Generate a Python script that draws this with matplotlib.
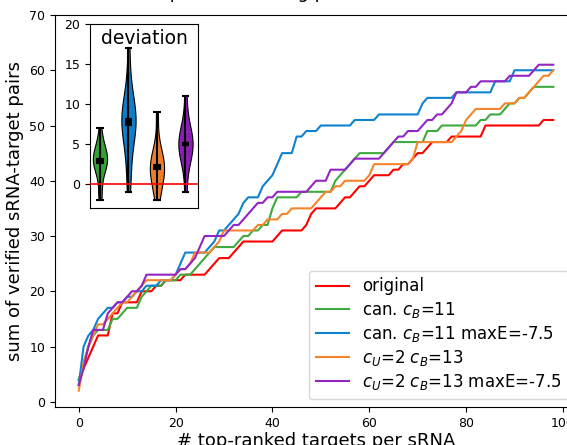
import numpy as np
import matplotlib
matplotlib.use("Agg")
import matplotlib.pyplot as plt

# cumulative number of verified sRNA-target pairs for the top-k predictions
ranks = list(range(99))

original = [4, 6, 8, 10, 12, 12, 12, 16, 16, 18,
            18, 18, 18, 20, 20, 20, 21, 21, 22, 22,
            22, 22, 23, 23, 23, 23, 23, 24, 25, 26,
            26, 26, 27, 28, 29, 29, 29, 29, 29, 29,
            29, 30, 31, 31, 31, 31, 31, 32, 34, 35,
            35, 35, 35, 35, 36, 37, 37, 38, 39, 39,
            40, 41, 41, 41, 41, 42, 42, 43, 43, 44,
            45, 45, 46, 47, 47, 47, 47, 48, 48, 48,
            48, 48, 48, 48, 50, 50, 50, 50, 50, 50,
            50, 50, 50, 50, 50, 50, 51, 51, 51]

can_cb11 = [4, 7, 10, 12, 13, 13, 13, 15, 15, 16,
            17, 17, 17, 19, 20, 21, 21, 21, 22, 22,
            22, 23, 23, 23, 24, 25, 26, 27, 28, 28,
            28, 28, 28, 29, 30, 30, 31, 31, 32, 32,
            35, 37, 37, 37, 37, 37, 38, 38, 38, 38,
            38, 38, 38, 40, 41, 42, 43, 44, 45, 45,
            45, 45, 45, 45, 46, 47, 47, 47, 47, 47,
            47, 47, 49, 49, 49, 50, 50, 50, 50, 50,
            50, 50, 50, 51, 51, 52, 52, 52, 53, 54,
            54, 55, 55, 56, 57, 57, 57, 57, 57]

can_cb11_maxe = [3, 10, 12, 13, 15, 16, 17, 17, 18, 18,
                 19, 19, 20, 20, 21, 21, 21, 22, 22, 22,
                 23, 25, 27, 27, 27, 27, 27, 28, 29, 31,
                 31, 32, 33, 34, 36, 37, 37, 37, 39, 40,
                 41, 43, 45, 45, 45, 48, 48, 49, 49, 49,
                 50, 50, 50, 50, 50, 50, 50, 51, 51, 51,
                 51, 51, 52, 52, 52, 52, 52, 52, 52, 52,
                 52, 54, 55, 55, 55, 55, 55, 55, 56, 56,
                 56, 56, 56, 56, 56, 56, 58, 58, 58, 58,
                 60, 60, 60, 60, 60, 60, 60, 60, 60]

cu2_cb13 = [2, 7, 10, 12, 14, 14, 15, 16, 17, 18,
            18, 19, 20, 21, 22, 22, 22, 22, 22, 22,
            23, 24, 24, 25, 27, 27, 27, 27, 28, 29,
            31, 31, 31, 31, 31, 31, 31, 32, 32, 33,
            33, 33, 34, 34, 35, 35, 35, 35, 35, 36,
            37, 38, 38, 39, 39, 40, 40, 40, 40, 40,
            41, 43, 43, 43, 43, 43, 43, 43, 43, 44,
            47, 47, 47, 47, 47, 47, 47, 47, 48, 49,
            51, 52, 53, 53, 53, 53, 53, 53, 54, 54,
            54, 55, 55, 56, 57, 58, 59, 59, 60]

cu2_cb13_maxe = [3, 6, 10, 13, 13, 13, 16, 17, 18, 18,
                 19, 20, 20, 21, 23, 23, 23, 23, 23, 23,
                 23, 24, 24, 25, 26, 28, 30, 30, 30, 30,
                 30, 31, 32, 32, 33, 34, 35, 36, 36, 37,
                 37, 38, 38, 38, 38, 38, 38, 38, 39, 40,
                 40, 40, 42, 42, 42, 42, 43, 44, 44, 44,
                 44, 44, 44, 45, 46, 47, 48, 48, 49, 49,
                 49, 50, 51, 51, 52, 52, 53, 54, 56, 56,
                 56, 57, 57, 58, 58, 58, 58, 58, 58, 59,
                 59, 59, 59, 59, 60, 61, 61, 61, 61]

labels = ['original',
          'can. $c_B$=11',
          'can. $c_B$=11 maxE=-7.5',
          '$c_U$=2 $c_B$=13',
          '$c_U$=2 $c_B$=13 maxE=-7.5']
colors = ['#ff0000', '#3daa3d', '#0f82cf', '#f5842a', '#9424c4']

# deviation from "original" per sRNA (inset violins)
dev_can_cb11 = [-2, -1, 1, 2, 2, 3, 3, 3, 3, 3, 4, 4, 5, 5, 7]
dev_can_cb11_maxe = [-1, 1, 3, 5, 6, 7, 7, 8, 8, 8, 9, 9, 10, 11, 13, 17]
dev_cu2_cb13 = [-2, -1, 0, 1, 1, 2, 2, 2, 3, 3, 4, 5, 9]
dev_cu2_cb13_maxe = [-1, 2, 3, 4, 4, 5, 5, 5, 6, 6, 7, 8, 11]
violin_colors = ['#35a035', '#0f7dc8', '#eb7d2d', '#8c1eb4']

fig = plt.figure(figsize=(5.67, 4.45), dpi=100)
ax = fig.add_axes([55 / 567, 38 / 445, 522 / 567, 392 / 445])

series = [original, can_cb11, can_cb11_maxe, cu2_cb13, cu2_cb13_maxe]
for ys, lab, col in zip(series, labels, colors):
    ax.plot(ranks, ys, color=col, lw=1.5, label=lab)

ax.set_ylim(top=70)
ax.set_xticks([0, 20, 40, 60, 80, 100])
ax.tick_params(labelsize=9)
ax.set_xlabel('# top-ranked targets per sRNA', fontsize=13, labelpad=1.5)
ax.set_ylabel('sum of verified sRNA-target pairs', fontsize=13)
ax.legend(loc='lower right', fontsize=12, labelspacing=0.25)

# title sits mostly above the visible area
fig.text(147 / 567, 1.0 + 2.5 / 445, 'Impact of seeding parameters',
         fontsize=13, ha='left', va='baseline')

# inset with deviations
ax_in = fig.add_axes([90 / 567, (445 - 208) / 445, 108 / 567, 184 / 445])
dev_data = [dev_can_cb11, dev_can_cb11_maxe, dev_cu2_cb13, dev_cu2_cb13_maxe]
vp = ax_in.violinplot(dev_data, positions=[1, 2, 3, 4], showmeans=True,
                      showmedians=True, showextrema=True)
for body, c in zip(vp['bodies'], violin_colors):
    body.set_facecolor(c)
    body.set_edgecolor('black')
    body.set_linewidth(0.8)
    body.set_alpha(1)
for key in ['cmins', 'cmaxes', 'cbars']:
    vp[key].set_color('black')
    vp[key].set_linewidth(1.5)
for key in ['cmeans', 'cmedians']:
    vp[key].set_color('black')
    vp[key].set_linewidth(3)
ax_in.axhline(0, color='red', lw=1.2, zorder=3)
ax_in.set_xlim(0.65, 4.44)
ax_in.set_ylim(-3, 20)
ax_in.set_xticks([])
ax_in.set_yticks([0, 5, 10, 15, 20])
ax_in.tick_params(labelsize=9)
ax_in.text(0.5, 0.975, 'deviation', transform=ax_in.transAxes,
           ha='center', va='top', fontsize=13.5)

fig.savefig('out.png', dpi=100)
